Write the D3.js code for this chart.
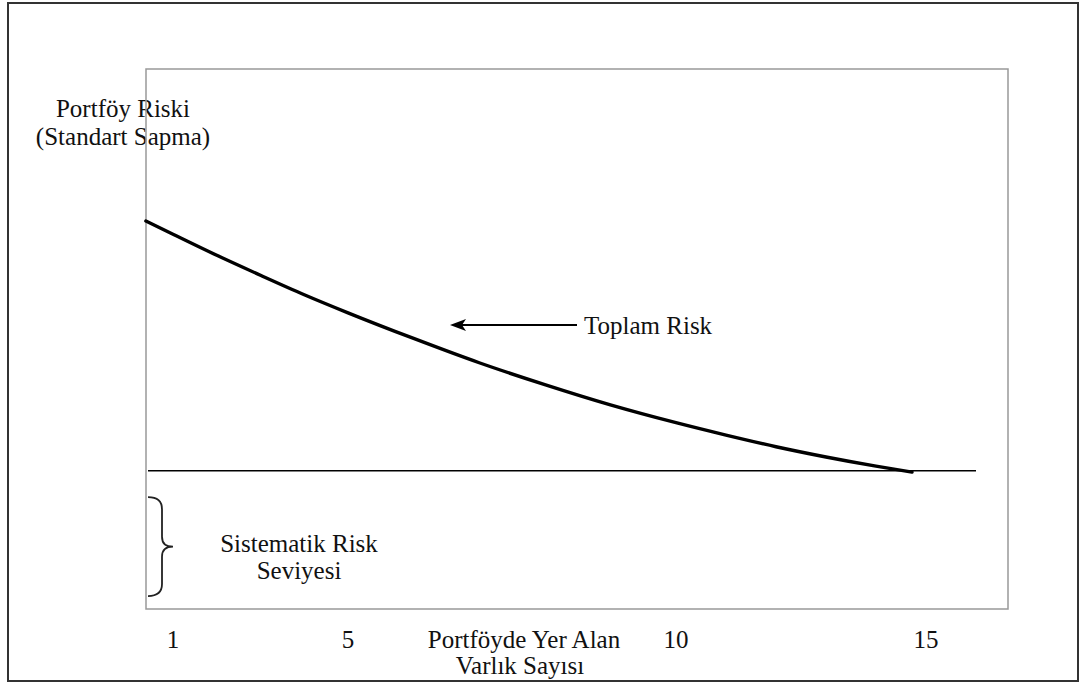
<!DOCTYPE html>
<html>
<head>
<meta charset="utf-8">
<script src="https://cdn.jsdelivr.net/npm/d3@7"></script>
<style>
  body { margin: 0; background: #fff; }
  text { font-family: "Liberation Serif", "Times New Roman", serif; fill: #111; }
</style>
</head>
<body>
<div id="chart"></div>
<script>
// x ticks (number of assets) - spacing on the original is not even
const tickValues = [1, 5, 10, 15];
const tickLabels = ['1', '5', '10', '15'];

// total risk curve (assets, risk in % of the y range)
const assetCount = [0.38, 1, 2, 3, 4, 5, 6, 7, 8, 9, 10, 11, 12, 13, 14, 14.72];
const totalRisk = [71.85, 69.4, 65.5, 61.8, 58.2, 54.85, 50.1, 45.6, 41.55, 37.8, 34.5, 32.2, 30.05, 28.15, 26.45, 25.35];

// systematic risk level and extent of the brace below it
const systematicLevel = 25.6;
const braceRange = [2.4, 20.7];

const width = 1081;
const height = 684;
const fontSize = 25;

const svg = d3.select('#chart')
  .append('svg')
  .attr('width', width)
  .attr('height', height);

// plot box
const box = { left: 146, top: 69, right: 1008, bottom: 609 };

// piecewise scale, tick positions come from the picture
const x = d3.scaleLinear()
  .domain(tickValues)
  .range([173, 348, 676, 926]);

const y = d3.scaleLinear()
  .domain([0, 100])
  .range([box.bottom, box.top]);

// outer frame
svg.append('rect')
  .attr('x', 8).attr('y', 3)
  .attr('width', 1070).attr('height', 678)
  .attr('fill', 'none')
  .attr('stroke', '#333')
  .attr('stroke-width', 2);

// y axis title
const yTitle = svg.append('text')
  .attr('text-anchor', 'middle')
  .attr('font-size', fontSize);
yTitle.append('tspan').attr('x', 123).attr('y', 117).text('Portföy Riski');
yTitle.append('tspan').attr('x', 123).attr('y', 145).text('(Standart Sapma)');

// inner box
svg.append('rect')
  .attr('x', box.left).attr('y', box.top)
  .attr('width', box.right - box.left)
  .attr('height', box.bottom - box.top)
  .attr('fill', 'none')
  .attr('stroke', '#999')
  .attr('stroke-width', 1.5);

// systematic risk line
svg.append('line')
  .attr('x1', box.left + 2)
  .attr('x2', 976)
  .attr('y1', y(systematicLevel))
  .attr('y2', y(systematicLevel))
  .attr('stroke', '#000')
  .attr('stroke-width', 1.5);

// total risk curve
const points = assetCount.map((d, i) => [d, totalRisk[i]]);
const line = d3.line()
  .x(d => x(d[0]))
  .y(d => y(d[1]))
  .curve(d3.curveMonotoneX);

svg.append('path')
  .datum(points)
  .attr('d', line)
  .attr('fill', 'none')
  .attr('stroke', '#000')
  .attr('stroke-width', 3.4)
  .attr('stroke-linecap', 'round');

// arrow + label
const arrowY = 325;
svg.append('line')
  .attr('x1', 460).attr('y1', arrowY)
  .attr('x2', 577).attr('y2', arrowY)
  .attr('stroke', '#000')
  .attr('stroke-width', 2);

svg.append('path')
  .attr('d', `M450,${arrowY} L466,${arrowY - 6} L462,${arrowY} L466,${arrowY + 6} Z`)
  .attr('fill', '#000');

svg.append('text')
  .attr('x', 584).attr('y', 334)
  .attr('font-size', fontSize)
  .text('Toplam Risk');

// brace for systematic risk
const bTop = y(braceRange[1]);
const bBot = y(braceRange[0]);
const bMid = (bTop + bBot) / 2;
const bx = 162;
const brace = d3.path();
brace.moveTo(148, bTop);
brace.quadraticCurveTo(bx, bTop, bx, bTop + 12);
brace.lineTo(bx, bMid - 10);
brace.quadraticCurveTo(bx, bMid, 173, bMid);
brace.quadraticCurveTo(bx, bMid, bx, bMid + 10);
brace.lineTo(bx, bBot - 12);
brace.quadraticCurveTo(bx, bBot, 148, bBot);

svg.append('path')
  .attr('d', brace.toString())
  .attr('fill', 'none')
  .attr('stroke', '#222')
  .attr('stroke-width', 1.8);

const sysLabel = svg.append('text')
  .attr('text-anchor', 'middle')
  .attr('font-size', fontSize);
sysLabel.append('tspan').attr('x', 299).attr('y', 552).text('Sistematik Risk');
sysLabel.append('tspan').attr('x', 299).attr('y', 579).text('Seviyesi');

// x tick labels
svg.append('g')
  .selectAll('text')
  .data(tickValues)
  .enter()
  .append('text')
  .attr('x', d => x(d))
  .attr('y', 648)
  .attr('text-anchor', 'middle')
  .attr('font-size', fontSize)
  .text((d, i) => tickLabels[i]);

// x axis title
const xTitle = svg.append('text')
  .attr('text-anchor', 'middle')
  .attr('font-size', fontSize);
xTitle.append('tspan').attr('x', 524).attr('y', 648).text('Portföyde Yer Alan');
xTitle.append('tspan').attr('x', 520).attr('y', 674).text('Varlık Sayısı');
</script>
</body>
</html>
